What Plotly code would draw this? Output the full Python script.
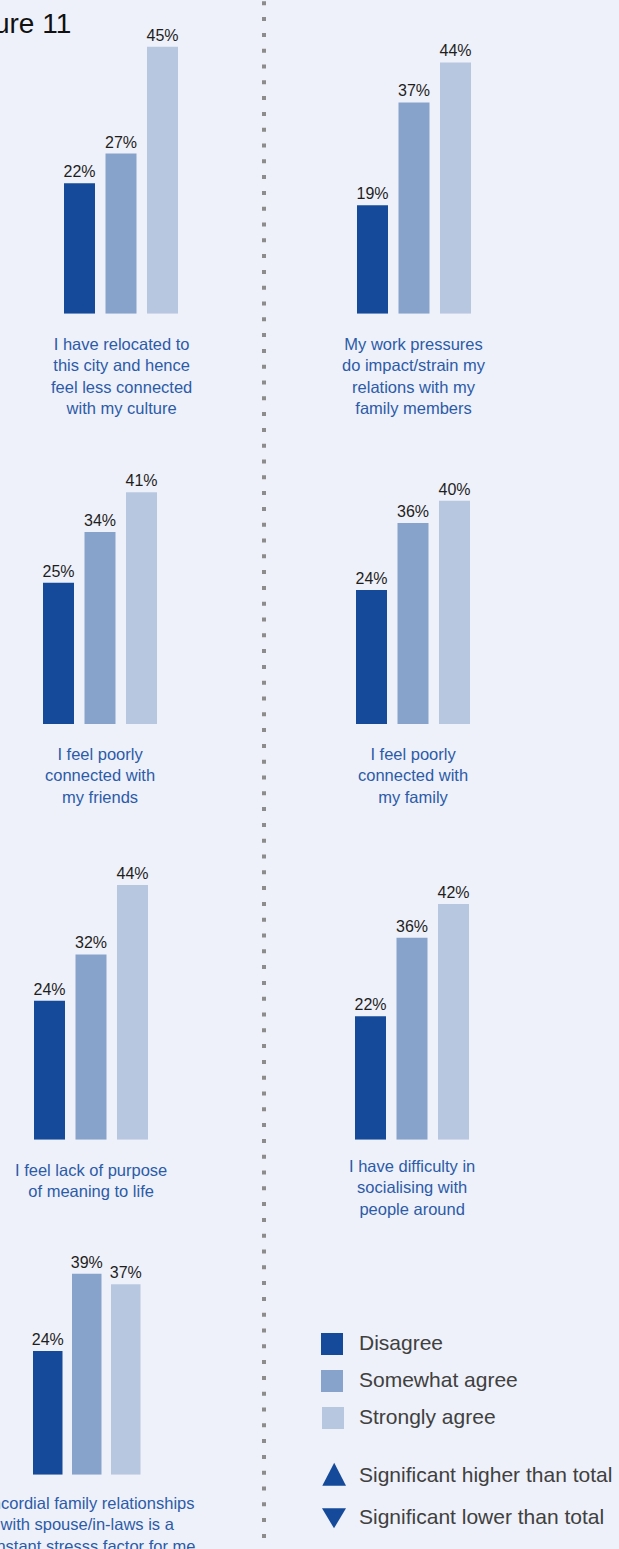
import plotly.graph_objects as go

# ---------------- data ----------------
series_names = ["Disagree", "Somewhat agree", "Strongly agree"]
statements = [
    "I have relocated to<br>this city and hence<br>feel less connected<br>with my culture",
    "My work pressures<br>do impact/strain my<br>relations with my<br>family members",
    "I feel poorly<br>connected with<br>my friends",
    "I feel poorly<br>connected with<br>my family",
    "I feel lack of purpose<br>of meaning to life",
    "I have difficulty in<br>socialising with<br>people around",
    "Uncordial family relationships<br>with spouse/in-laws is a<br>constant stresss factor for me",
]
disagree = [22, 19, 25, 24, 24, 22, 24]
somewhat_agree = [27, 37, 34, 36, 32, 36, 39]
strongly_agree = [45, 44, 41, 40, 44, 42, 37]
title_text = "Figure 11"
legend_extra = ["Significant higher than total", "Significant lower than total"]

# ---------------- style ----------------
W, H = 619, 1549
BG = "#eef1f9"
COLORS = ["#154a9a", "#87a3cb", "#b8c7e0"]
CAT_COLOR = "#2c5ba8"
FONT = "Liberation Sans, Arial, sans-serif"

# panel geometry in pixels (left of first bar, bar width, step, bottom, px per %, label offset)
panels = [
    dict(left=64, w=31, step=41.5, bottom=313.7, scale=5.93, dy=35.5),
    dict(left=357, w=31, step=41.5, bottom=313.7, scale=5.71, dy=35.5),
    dict(left=43, w=31, step=41.5, bottom=724.0, scale=5.65, dy=35.3),
    dict(left=356, w=31, step=41.5, bottom=724.0, scale=5.58, dy=35.3),
    dict(left=34, w=31, step=41.5, bottom=1139.7, scale=5.79, dy=35.3),
    dict(left=355, w=31, step=41.5, bottom=1139.7, scale=5.61, dy=31.3),
    dict(left=33, w=29.5, step=39.0, bottom=1474.7, scale=5.15, dy=33.6),
]


def fx(x):
    return x / W


def fy(y):
    return 1 - y / H


fig = go.Figure()
layout_axes = {}
annotations = []
SPAN = 290.0

for i, p in enumerate(panels):
    n = "" if i == 0 else str(i + 1)
    gap = p["step"] - p["w"]
    x0 = p["left"] - gap / 2
    x1 = x0 + 3 * p["step"]
    vals = [disagree[i], somewhat_agree[i], strongly_agree[i]]
    fig.add_trace(go.Bar(
        x=series_names, y=vals,
        xaxis="x" + n, yaxis="y" + n,
        marker=dict(color=COLORS, line=dict(width=0)),
        width=p["w"] / p["step"],
        text=[f"{v}%" for v in vals],
        textposition="outside",
        textfont=dict(size=16, color="#1e1e1e", family=FONT),
        constraintext="none",
        cliponaxis=False,
        showlegend=False,
        hoverinfo="skip",
    ))
    layout_axes["xaxis" + n] = dict(domain=[fx(x0), fx(x1)], range=[-0.5, 2.5],
                                    visible=False, anchor="y" + n, fixedrange=True)
    layout_axes["yaxis" + n] = dict(domain=[fy(p["bottom"]), fy(p["bottom"] - SPAN)],
                                    range=[0, SPAN / p["scale"]], visible=False,
                                    anchor="x" + n, fixedrange=True)
    annotations.append(dict(
        xref="paper", yref="paper", x=fx((x0 + x1) / 2), y=fy(p["bottom"] + p["dy"] - 16),
        xanchor="center", yanchor="top", showarrow=False, align="center",
        text=statements[i], font=dict(size=16.5, color=CAT_COLOR, family=FONT),
    ))

# title (partially cropped at left edge)
annotations.append(dict(xref="paper", yref="paper", x=fx(73), y=fy(6), xanchor="right",
                        yanchor="top", showarrow=False, text=title_text,
                        font=dict(size=28, color="#111111", family=FONT)))

shapes = []
# dotted vertical separator
shapes.append(dict(type="line", xref="paper", yref="paper", x0=fx(264), x1=fx(264),
                   y0=fy(1.3), y1=0, line=dict(color="#8c8c8c", width=4, dash="4px,11.8px")))

# legend squares
sq = [(321, 1333), (321, 1370), (322, 1407)]
for (lx, ly), c, name in zip(sq, COLORS, series_names):
    shapes.append(dict(type="rect", xref="paper", yref="paper", x0=fx(lx), x1=fx(lx + 22),
                       y0=fy(ly), y1=fy(ly + 22), fillcolor=c, line=dict(width=0)))
    annotations.append(dict(xref="paper", yref="paper", x=fx(357), y=fy(ly + 9),
                            xanchor="left", yanchor="middle", showarrow=False, text=name,
                            font=dict(size=21, color="#404040", family=FONT)))

# triangles
def tri_path(pts):
    return "M " + " L ".join(f"{fx(a)},{fy(b)}" for a, b in pts) + " Z"

shapes.append(dict(type="path", xref="paper", yref="paper",
                   path=tri_path([(322.3, 1485.7), (346, 1485.7), (334.2, 1462.7)]),
                   fillcolor=COLORS[0], line=dict(width=0)))
shapes.append(dict(type="path", xref="paper", yref="paper",
                   path=tri_path([(322, 1508.3), (346, 1508.3), (334, 1528.3)]),
                   fillcolor=COLORS[0], line=dict(width=0)))
for txt, yc in zip(legend_extra, [1474, 1516]):
    annotations.append(dict(xref="paper", yref="paper", x=fx(357), y=fy(yc),
                            xanchor="left", yanchor="middle", showarrow=False, text=txt,
                            font=dict(size=21, color="#404040", family=FONT)))

fig.update_layout(
    width=W, height=H,
    margin=dict(l=0, r=0, t=0, b=0),
    paper_bgcolor=BG, plot_bgcolor=BG,
    showlegend=False,
    annotations=annotations,
    shapes=shapes,
    font=dict(family=FONT),
    **layout_axes,
)

fig.write_html(
    "out.html",
    config={"displayModeBar": False},
    post_script="document.body.style.margin='0';document.body.style.padding='0';"
                "document.body.style.background='" + BG + "';",
)
